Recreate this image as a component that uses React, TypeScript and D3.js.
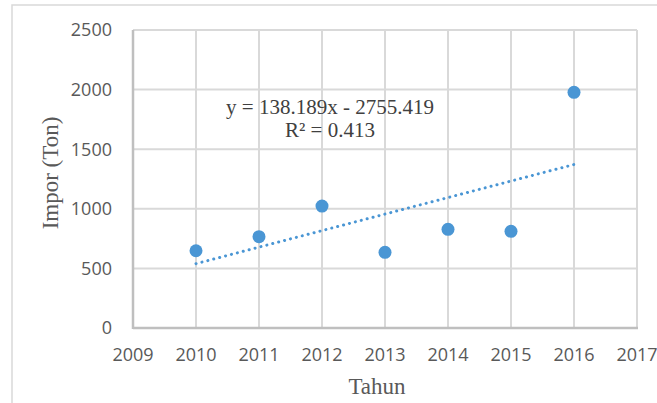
import React, { useEffect, useRef } from 'react';
import * as d3 from 'd3';

// data
const years = [2010, 2011, 2012, 2013, 2014, 2015, 2016];
const impor = [648, 766, 1023, 635, 828, 811, 1977];
const xTicks = [2009, 2010, 2011, 2012, 2013, 2014, 2015, 2016, 2017];
const yTicks = [0, 500, 1000, 1500, 2000, 2500];
const equationText = 'y = 138.189x - 2755.419';
const r2Text = 'R² = 0.413';

const W = 657;
const H = 403;
const margin = { left: 133, top: 30, right: 20, bottom: 75 };

function App() {
	const svgRef = useRef<SVGSVGElement>(null);

	useEffect(() => {
		const svg = d3.select(svgRef.current);
		svg.selectAll('*').remove();

		const x = d3.scaleLinear().domain([2009, 2017]).range([margin.left, W - margin.right]);
		const y = d3.scaleLinear().domain([0, 2500]).range([H - margin.bottom, margin.top]);

		// outer chart border
		svg.append('rect')
			.attr('x', 12).attr('y', 5)
			.attr('width', W + 20).attr('height', H + 20)
			.attr('fill', '#fff')
			.attr('stroke', '#d9d9d9').attr('stroke-width', 1.5);

		// gridlines
		const grid = svg.append('g');
		grid.selectAll('.gx').data(xTicks.slice(1)).join('line')
			.attr('x1', d => x(d)).attr('x2', d => x(d))
			.attr('y1', y(2500)).attr('y2', y(0))
			.attr('stroke', '#d9d9d9').attr('stroke-width', 2);
		grid.selectAll('.gy').data(yTicks.slice(1)).join('line')
			.attr('x1', x(2009)).attr('x2', x(2017))
			.attr('y1', d => y(d)).attr('y2', d => y(d))
			.attr('stroke', '#d9d9d9').attr('stroke-width', 2);

		// axis lines
		svg.append('line')
			.attr('x1', x(2009)).attr('x2', x(2009)).attr('y1', y(2500)).attr('y2', y(0) + 1)
			.attr('stroke', '#bfbfbf').attr('stroke-width', 2.5);
		svg.append('line')
			.attr('x1', x(2009)).attr('x2', x(2017) + 1).attr('y1', y(0)).attr('y2', y(0))
			.attr('stroke', '#bfbfbf').attr('stroke-width', 2.5);

		// tick labels
		svg.selectAll('.ty').data(yTicks).join('text')
			.attr('x', 112).attr('y', d => y(d))
			.attr('dy', '0.36em')
			.attr('text-anchor', 'end')
			.attr('font-family', '"Open Sans", sans-serif').attr('font-size', 18)
			.attr('fill', '#595959')
			.text(d => d);
		svg.selectAll('.tx').data(xTicks).join('text')
			.attr('x', d => x(d)).attr('y', 361)
			.attr('text-anchor', 'middle')
			.attr('font-family', '"Open Sans", sans-serif').attr('font-size', 18)
			.attr('fill', '#595959')
			.text(d => d);

		// trend line (least squares)
		const mx = d3.mean(years)!;
		const my = d3.mean(impor)!;
		const slope = d3.sum(years, (d, i) => (d - mx) * (impor[i] - my)) / d3.sum(years, d => (d - mx) ** 2);
		const icpt = my - slope * mx;
		const x0 = years[0], x1 = years[years.length - 1];
		svg.append('line')
			.attr('x1', x(x0)).attr('y1', y(slope * x0 + icpt))
			.attr('x2', x(x1)).attr('y2', y(slope * x1 + icpt))
			.attr('stroke', '#4a96d4').attr('stroke-width', 3)
			.attr('stroke-linecap', 'round')
			.attr('stroke-dasharray', '0.1 6');

		// points
		svg.selectAll('.pt').data(years).join('circle')
			.attr('cx', d => x(d)).attr('cy', (d, i) => y(impor[i]))
			.attr('r', 6.5)
			.attr('fill', '#4a96d4');

		// equation
		const eq = svg.append('g')
			.attr('font-family', '"Liberation Serif", "Times New Roman", serif')
			.attr('font-size', 21).attr('fill', '#404040')
			.attr('text-anchor', 'middle');
		eq.append('text').attr('x', 330).attr('y', 114).text(equationText);
		eq.append('text').attr('x', 330).attr('y', 137).text(r2Text);

		// axis titles
		svg.append('text')
			.attr('transform', 'translate(58,173) rotate(-90)')
			.attr('text-anchor', 'middle')
			.attr('font-family', '"Liberation Serif", "Times New Roman", serif')
			.attr('font-size', 23).attr('fill', '#595959')
			.text('Impor (Ton)');
		svg.append('text')
			.attr('x', 377).attr('y', 394)
			.attr('text-anchor', 'middle')
			.attr('font-family', '"Liberation Serif", "Times New Roman", serif')
			.attr('font-size', 23).attr('fill', '#595959')
			.text('Tahun');
	}, []);

	return (
		<div style={{ position: 'fixed', left: 0, top: 0 }}>
			<svg ref={svgRef} width={W} height={H} style={{ display: 'block', background: '#fff' }} />
		</div>
	);
}

export default App;
